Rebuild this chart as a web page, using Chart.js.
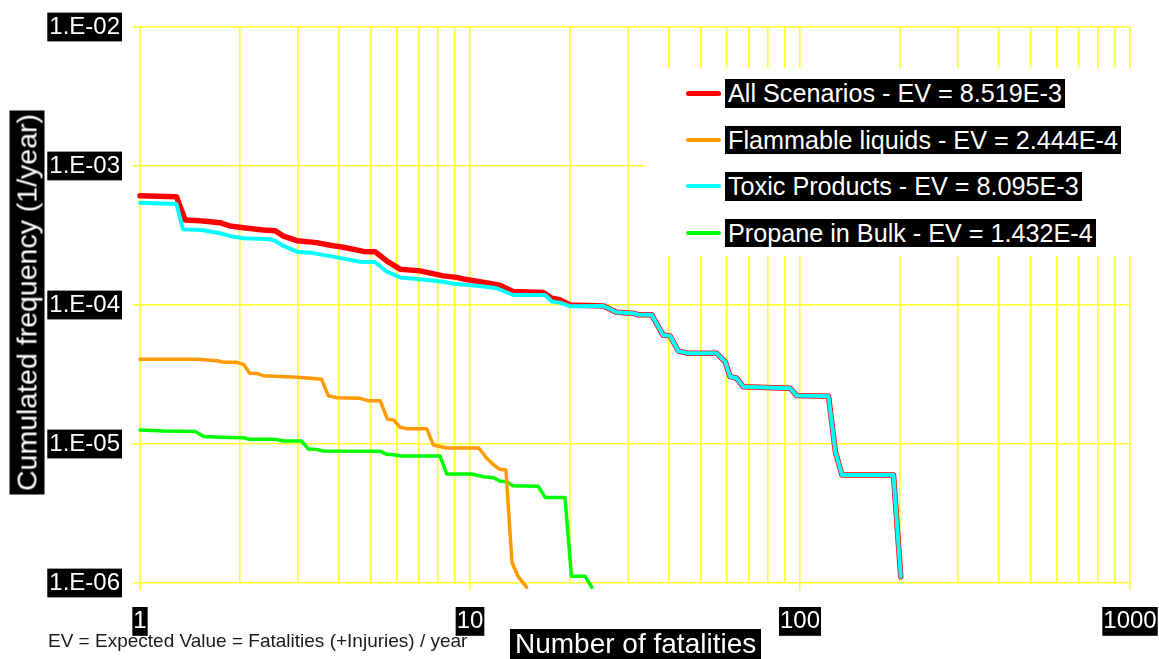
<!DOCTYPE html>
<html>
<head>
<meta charset="utf-8">
<title>F-N curve</title>
<script src="https://cdn.jsdelivr.net/npm/chart.js@4.4.0/dist/chart.umd.min.js"></script>
<style>
  html, body { margin: 0; padding: 0; background: #fff; }
  #wrap { position: relative; width: 1159px; height: 659px; overflow: hidden;
          font-family: "Liberation Sans", Arial, sans-serif; }
  #fn { position: absolute; left: 0; top: 0; }
  .blk { position: absolute; background: #000; color: #fff; white-space: nowrap; }
  #ytitle { left: -165.5px; top: 285px; width: 384px; height: 35px; line-height: 35px;
            font-size: 28.5px; text-align: center; transform: rotate(-90deg); }
  #xtitle { left: 510px; top: 629px; font-size: 28px; line-height: 30px; padding: 0 5px; }
  #note { position: absolute; left: 48px; top: 631px; font-size: 19px; line-height: 19px;
          color: #1a1a1a; white-space: nowrap; }
  #legend { position: absolute; left: 644px; top: 68px; width: 520px; height: 188px; background: #fff; }
  .row { position: absolute; left: 0; height: 28px; }
  .swatch { position: absolute; left: 42px; width: 35px; border-radius: 3px; }
  .rtext { position: absolute; left: 81px; top: 0; font-size: 25.2px; line-height: 28.5px; padding: 0 3px; }
</style>
</head>
<body>
<div id="wrap">
  <canvas id="fn" width="1159" height="659"></canvas>
  <div id="legend"></div>
  <div class="blk" id="ytitle">Cumulated frequency (1/year)</div>
  <div class="blk" id="xtitle">Number of fatalities</div>
  <div id="note">EV = Expected Value = Fatalities (+Injuries) / year</div>
</div>
<script>
// Series names and expected values
const seriesNames = ['All Scenarios', 'Flammable liquids', 'Toxic Products', 'Propane in Bulk'];
const seriesEV = ['8.519E-3', '2.444E-4', '8.095E-3', '1.432E-4'];

// All Scenarios: number of fatalities / cumulated frequency
const allN = [1, 1.29, 1.37, 1.52, 1.75, 1.87, 2.06, 2.36, 2.57, 2.72,
              2.99, 3.43, 3.77, 4.13, 4.75, 5.15, 5.65, 6.14, 7.06, 8.30,
              9.11, 9.54, 10.7, 12.3, 13.5, 16.7, 17.7, 18.7, 20.1, 25.4,
              27.8, 31.2, 32.4, 35.5, 38.5, 40.4, 42.8, 45.9, 55.9, 59.3,
              61.4, 64.3, 67.3, 93.3, 97.7, 122, 128, 134, 192, 202];
const allF = [6.11e-4, 6.01e-4, 4.09e-4, 4.04e-4, 3.91e-4, 3.70e-4, 3.60e-4, 3.46e-4, 3.42e-4, 3.13e-4,
              2.90e-4, 2.81e-4, 2.69e-4, 2.60e-4, 2.43e-4, 2.42e-4, 2.04e-4, 1.81e-4, 1.76e-4, 1.62e-4,
              1.58e-4, 1.54e-4, 1.47e-4, 1.39e-4, 1.25e-4, 1.23e-4, 1.12e-4, 1.09e-4, 1.00e-4, 9.84e-5,
              8.86e-5, 8.71e-5, 8.51e-5, 8.51e-5, 6.08e-5, 5.98e-5, 4.67e-5, 4.49e-5, 4.49e-5, 3.91e-5,
              3.05e-5, 2.97e-5, 2.58e-5, 2.52e-5, 2.23e-5, 2.21e-5, 8.80e-6, 5.98e-6, 5.98e-6, 1.11e-6];

// Flammable liquids
const flamN = [1, 1.49, 1.71, 1.79, 1.96, 2.06, 2.15, 2.26, 2.36, 2.99,
               3.28, 3.55, 3.72, 3.95, 4.64, 4.92, 5.34, 5.62, 5.86, 6.14,
               6.43, 7.39, 7.74, 8.50, 10.6, 10.7, 11.2, 11.8, 12.3, 12.85,
               13.4, 14.0, 14.85];
const flamF = [4.07e-5, 4.07e-5, 3.97e-5, 3.87e-5, 3.87e-5, 3.74e-5, 3.23e-5, 3.22e-5, 3.10e-5, 3.02e-5,
               2.97e-5, 2.92e-5, 2.23e-5, 2.15e-5, 2.13e-5, 2.05e-5, 2.05e-5, 1.51e-5, 1.49e-5, 1.32e-5,
               1.29e-5, 1.29e-5, 9.84e-6, 9.36e-6, 9.36e-6, 9.20e-6, 7.97e-6, 7.06e-6, 6.57e-6, 6.50e-6,
               1.41e-6, 1.11e-6, 9.3e-7];

// Toxic Products
const toxN = [1, 1.29, 1.35, 1.54, 1.75, 1.87, 2.06, 2.48, 2.57, 2.72,
              2.99, 3.28, 3.95, 4.64, 5.15, 5.59, 6.14, 7.06, 8.30, 8.90,
              10.7, 12.05, 13.5, 16.9, 17.7, 18.7, 20.1, 25.4,
              27.8, 31.2, 32.4, 35.5, 38.5, 40.4, 42.8, 45.9, 55.9, 59.3,
              61.4, 64.3, 67.3, 93.3, 97.7, 122, 128, 134, 192, 202];
const toxF = [5.44e-4, 5.33e-4, 3.50e-4, 3.46e-4, 3.28e-4, 3.14e-4, 3.02e-4, 2.97e-4, 2.89e-4, 2.66e-4,
              2.42e-4, 2.38e-4, 2.20e-4, 2.05e-4, 2.04e-4, 1.74e-4, 1.58e-4, 1.53e-4, 1.47e-4, 1.42e-4,
              1.37e-4, 1.32e-4, 1.18e-4, 1.18e-4, 1.06e-4, 1.04e-4, 9.80e-5, 9.84e-5,
              8.86e-5, 8.71e-5, 8.51e-5, 8.51e-5, 6.08e-5, 5.98e-5, 4.67e-5, 4.49e-5, 4.49e-5, 3.91e-5,
              3.05e-5, 2.97e-5, 2.58e-5, 2.52e-5, 2.23e-5, 2.21e-5, 8.80e-6, 5.98e-6, 5.98e-6, 1.11e-6];

// Propane in Bulk
const propN = [1, 1.18, 1.47, 1.56, 1.75, 2.06, 2.15, 2.57, 2.72, 3.09,
               3.24, 3.39, 3.59, 5.34, 5.59, 5.86, 6.21, 8.11, 8.50, 10.1,
               11.0, 11.8, 12.3, 12.9, 13.5, 16.1, 16.9, 19.4, 20.3, 22.3,
               23.4];
const propF = [1.26e-5, 1.24e-5, 1.23e-5, 1.13e-5, 1.12e-5, 1.11e-5, 1.08e-5, 1.08e-5, 1.05e-5, 1.05e-5,
               9.20e-6, 9.18e-6, 8.90e-6, 8.88e-6, 8.43e-6, 8.38e-6, 8.20e-6, 8.20e-6, 6.08e-6, 6.08e-6,
               5.82e-6, 5.72e-6, 5.42e-6, 5.36e-6, 5.01e-6, 4.96e-6, 4.13e-6, 4.13e-6, 1.12e-6, 1.12e-6,
               9.3e-7];

// Axes: grid positions and labels
const xGridValues = [1, 2, 3, 4, 5, 6, 7, 8, 9,
                     10, 20, 30, 40, 50, 60, 70, 80, 90,
                     100, 200, 300, 400, 500, 600, 700, 800, 900, 1000];
const xTickLabels = ['1', '10', '100', '1000'];
const yTickValues = [1e-6, 1e-5, 1e-4, 1e-3, 1e-2];
const yTickLabels = ['1.E-06', '1.E-05', '1.E-04', '1.E-03', '1.E-02'];

const GRID = '#ffff2a';
const FONT = '"Liberation Sans", Arial, sans-serif';

const pts = (xs, ys) => xs.map((x, i) => ({ x, y: ys[i] }));
const isLabelled = v => xTickLabels.includes(String(v));

Chart.defaults.font.family = FONT;

const chart = new Chart(document.getElementById('fn'), {
  type: 'line',
  data: {
    datasets: [
      { label: seriesNames[0] + ' - EV = ' + seriesEV[0], data: pts(allN, allF),
        borderColor: '#ff0000', borderWidth: 5.5, order: 3 },
      { label: seriesNames[1] + ' - EV = ' + seriesEV[1], data: pts(flamN, flamF),
        borderColor: '#ff9a00', borderWidth: 3.5, order: 1 },
      { label: seriesNames[2] + ' - EV = ' + seriesEV[2], data: pts(toxN, toxF),
        borderColor: '#00ffff', borderWidth: 4, order: 0 },
      { label: seriesNames[3] + ' - EV = ' + seriesEV[3], data: pts(propN, propF),
        borderColor: '#00ff00', borderWidth: 3.5, order: 2 }
    ].map(d => Object.assign(d, {
      pointRadius: 0, tension: 0, fill: false,
      borderJoinStyle: 'round', borderCapStyle: 'round',
      clip: { left: 6, top: 6, right: 6, bottom: 8 }
    }))
  },
  options: {
    responsive: false,
    animation: false,
    devicePixelRatio: 1,
    layout: { padding: { top: 27, right: 29, left: 0, bottom: 0 } },
    plugins: { legend: { display: false }, tooltip: { enabled: false } },
    scales: {
      x: {
        type: 'logarithmic', min: 1, max: 1000,
        afterBuildTicks: s => { s.ticks = xGridValues.map(v => ({ value: v, major: isLabelled(v) })); },
        afterFit: s => { s.height = 76; s.paddingLeft = 0; s.paddingRight = 0; },
        border: { display: false },
        grid: {
          color: GRID, lineWidth: 1.6, tickLength: 7,
          tickColor: c => (c.tick && isLabelled(c.tick.value)) ? GRID : 'rgba(0,0,0,0)'
        },
        ticks: {
          autoSkip: false, maxRotation: 0, minRotation: 0, padding: 17,
          color: '#fff', font: { size: 24, family: FONT },
          showLabelBackdrop: c => !!(c.tick && isLabelled(c.tick.value)),
          backdropColor: '#000',
          backdropPadding: { top: 0, bottom: 0, left: 1, right: 1 },
          callback: v => isLabelled(v) ? String(v) : ''
        }
      },
      y: {
        type: 'logarithmic', min: 1e-6, max: 1e-2,
        afterBuildTicks: s => { s.ticks = yTickValues.map(v => ({ value: v, major: true })); },
        afterFit: s => { s.width = 140; s.paddingTop = 0; s.paddingBottom = 0; },
        border: { display: false },
        grid: { color: GRID, lineWidth: 1.6, tickLength: 7, tickColor: GRID },
        ticks: {
          padding: 13, color: '#fff', font: { size: 24, family: FONT },
          showLabelBackdrop: true, backdropColor: '#000',
          backdropPadding: { top: 0, bottom: 0, left: 2, right: 2 },
          callback: (v, i) => yTickLabels[i]
        }
      }
    }
  }
});

// Legend built from the chart's datasets
const legend = document.getElementById('legend');
const rowTops = [11, 57.5, 104, 150.5];
[0, 1, 2, 3].forEach((di, k) => {
  const ds = chart.data.datasets[di];
  const row = document.createElement('div');
  row.className = 'row';
  row.style.top = rowTops[k] + 'px';
  const sw = document.createElement('div');
  sw.className = 'swatch';
  const h = di === 0 ? 5 : 4;
  sw.style.height = h + 'px';
  sw.style.top = (14 - h / 2) + 'px';
  sw.style.background = ds.borderColor;
  const t = document.createElement('div');
  t.className = 'blk rtext';
  t.textContent = ds.label;
  row.appendChild(sw);
  row.appendChild(t);
  legend.appendChild(row);
});
</script>
</body>
</html>
